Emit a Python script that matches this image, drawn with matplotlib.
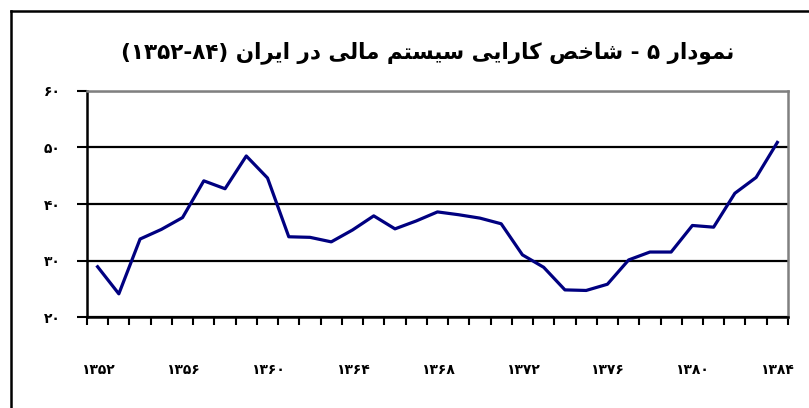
import re
import matplotlib
matplotlib.use('Agg')
import matplotlib.pyplot as plt
from matplotlib.lines import Line2D

# data
years = list(range(1352, 1385))
values = [28.9, 24.1, 33.8, 35.5, 37.6, 44.1, 42.7, 48.5, 44.6, 34.2, 34.1,
          33.3, 35.4, 37.9, 35.6, 37.0, 38.6, 38.1, 37.5, 36.5, 31.0, 28.8,
          24.8, 24.7, 25.8, 30.1, 31.5, 31.5, 36.2, 35.9, 41.9, 44.7, 50.9]
y_ticks = [20, 30, 40, 50, 60]
label_years = [1352, 1356, 1360, 1364, 1368, 1372, 1376, 1380, 1384]
title = 'نمودار ۵ - شاخص کارایی سیستم مالی در ایران (۸۴-۱۳۵۲)'

# matplotlib has no arabic shaping, so pick presentation forms by hand
# dual-joining: (isolated, final, initial, medial); right-joining: (isolated, final)
FORMS = {
    'ا': ('\uFE8D', '\uFE8E'),
    'ب': ('\uFE8F', '\uFE90', '\uFE91', '\uFE92'),
    'ت': ('\uFE95', '\uFE96', '\uFE97', '\uFE98'),
    'خ': ('\uFEA5', '\uFEA6', '\uFEA7', '\uFEA8'),
    'د': ('\uFEA9', '\uFEAA'),
    'ر': ('\uFEAD', '\uFEAE'),
    'س': ('\uFEB1', '\uFEB2', '\uFEB3', '\uFEB4'),
    'ش': ('\uFEB5', '\uFEB6', '\uFEB7', '\uFEB8'),
    'ص': ('\uFEB9', '\uFEBA', '\uFEBB', '\uFEBC'),
    'ل': ('\uFEDD', '\uFEDE', '\uFEDF', '\uFEE0'),
    'م': ('\uFEE1', '\uFEE2', '\uFEE3', '\uFEE4'),
    'ن': ('\uFEE5', '\uFEE6', '\uFEE7', '\uFEE8'),
    'و': ('\uFEED', '\uFEEE'),
    'ک': ('\uFB8E', '\uFB8F', '\uFB90', '\uFB91'),
    'ی': ('\uFBFC', '\uFBFD', '\uFBFE', '\uFBFF'),
}


def rtl(text):
    out = []
    for i, ch in enumerate(text):
        if ch not in FORMS:
            out.append(ch)
            continue
        forms = FORMS[ch]
        prev = text[i - 1] if i > 0 else ''
        nxt = text[i + 1] if i + 1 < len(text) else ''
        join_prev = prev in FORMS and len(FORMS[prev]) == 4
        join_next = len(forms) == 4 and nxt in FORMS
        if join_prev and join_next:
            out.append(forms[3])
        elif join_prev:
            out.append(forms[1])
        elif join_next:
            out.append(forms[2])
        else:
            out.append(forms[0])
    tokens = re.findall(r'[۰-۹0-9]+|.', ''.join(out))[::-1]
    mirror = {'(': ')', ')': '('}
    return ''.join(mirror.get(t, t) for t in tokens)


def fa(num):
    return str(num).translate(str.maketrans('0123456789', '۰۱۲۳۴۵۶۷۸۹'))


plt.rcParams['font.family'] = ['DejaVu Sans']

fig = plt.figure(figsize=(8.09, 4.08), dpi=100)
ax = fig.add_axes([0.1075, 0.223, 0.8665, 0.554])

x = list(range(len(years)))
ax.plot(x, values, color='#000080', linewidth=2.3, zorder=3)

ax.set_ylim(20, 60)
ax.set_xlim(-0.5, len(years) - 0.5)
ax.set_yticks(y_ticks)
ax.set_yticklabels([fa(v) for v in y_ticks], fontsize=10, fontweight='bold')
ax.yaxis.grid(True, color='black', linewidth=1.6)

ax.set_xticks([i - 0.5 for i in range(len(years) + 1)])
ax.set_xticklabels([])
ax.set_xticks([years.index(y) for y in label_years], minor=True)
ax.set_xticklabels([fa(y) for y in label_years], minor=True, fontsize=10,
                   fontweight='bold')
ax.tick_params(axis='x', which='major', direction='out', length=6, width=1.5)
ax.tick_params(axis='x', which='minor', length=0, pad=33)
ax.tick_params(axis='y', direction='out', length=7, width=1.5, pad=12)

for side in ['left', 'bottom']:
    ax.spines[side].set_linewidth(1.8)
    ax.spines[side].set_color('black')
for side in ['top', 'right']:
    ax.spines[side].set_linewidth(1.8)
    ax.spines[side].set_color('#808080')

fig.text(0.528, 0.87, rtl(title), ha='center', va='center',
         fontsize=15.5, fontweight='bold')

# outer chart frame (cut off at right and bottom in the reference)
fig.add_artist(Line2D([11 / 809, 11 / 809], [0, 1 - 11 / 408],
                      transform=fig.transFigure, color='black', linewidth=1.8))
fig.add_artist(Line2D([11 / 809, 1], [1 - 11 / 408, 1 - 11 / 408],
                      transform=fig.transFigure, color='black', linewidth=1.8))

fig.savefig('out.png', dpi=100)
